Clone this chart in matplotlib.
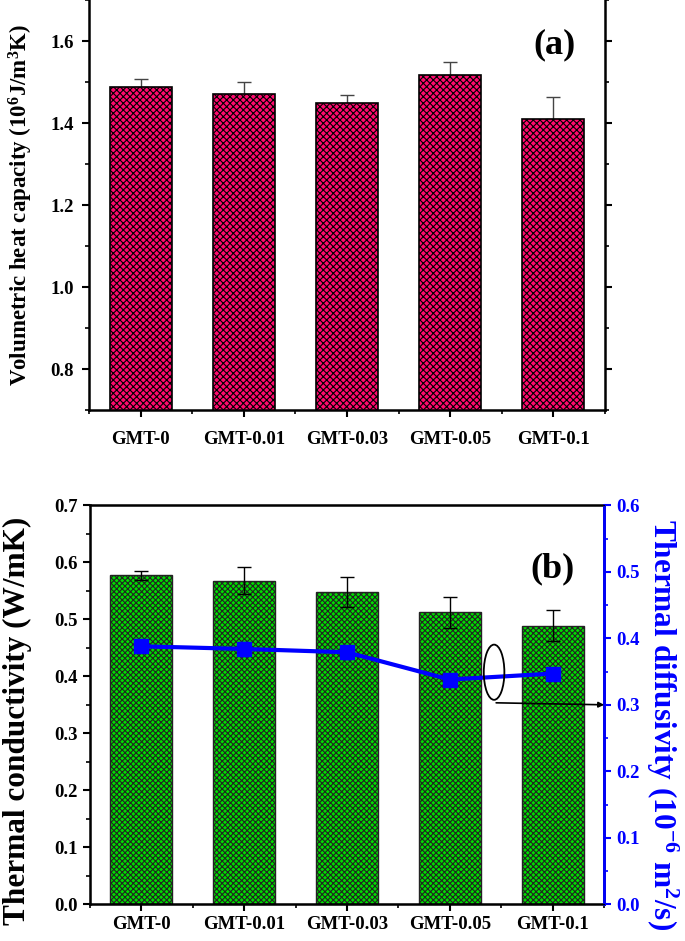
import matplotlib.pyplot as plt
from matplotlib.patches import Ellipse
from matplotlib.ticker import MultipleLocator
import numpy as np

# sample names
samples = ['GMT-0', 'GMT-0.01', 'GMT-0.03', 'GMT-0.05', 'GMT-0.1']

# (a) volumetric heat capacity, 10^6 J/m^3K (upper error only)
heat_cap = [1.489, 1.472, 1.450, 1.516, 1.409]
heat_cap_err = [0.018, 0.027, 0.019, 0.034, 0.055]

# (b) thermal conductivity, W/mK
conductivity = [0.577, 0.568, 0.548, 0.512, 0.489]
conductivity_err = [0.008, 0.024, 0.026, 0.028, 0.027]

# (b) thermal diffusivity, 10^-6 m^2/s
diffusivity = [0.388, 0.384, 0.379, 0.338, 0.347]
diffusivity_err = [0.008, 0.010, 0.010, 0.008, 0.006]


def main():
    plt.rcParams['font.family'] = ['Liberation Serif', 'DejaVu Serif']
    plt.rcParams['font.weight'] = 'bold'
    plt.rcParams['mathtext.fontset'] = 'custom'
    plt.rcParams['mathtext.rm'] = 'Liberation Serif:bold'
    plt.rcParams['mathtext.it'] = 'Liberation Serif:bold'
    plt.rcParams['mathtext.bf'] = 'Liberation Serif:bold'
    plt.rcParams['mathtext.default'] = 'rm'
    plt.rcParams['hatch.linewidth'] = 0.8

    fig = plt.figure(figsize=(6.85, 9.41), dpi=100)
    x = np.arange(len(samples))

    # ---- panel (a)
    ax1 = fig.add_axes([0.130, 0.564, 0.753, 0.436])
    ax1.errorbar(x, heat_cap, yerr=[np.zeros(len(x)), heat_cap_err], fmt='none',
                 ecolor='#444444', elinewidth=1, capsize=5, zorder=1)
    ax1.bar(x, heat_cap, width=0.6, color='#ff0a6e', edgecolor='black',
            hatch='xxxxx', linewidth=1.2, zorder=2)
    ax1.set_xlim(-0.5, 4.5)
    ax1.set_ylim(0.7, 1.7)
    ax1.set_yticks([0.8, 1.0, 1.2, 1.4, 1.6])
    ax1.yaxis.set_minor_locator(MultipleLocator(0.1))
    ax1.set_xticks(x)
    ax1.set_xticks(np.arange(-0.5, 4.6, 1), minor=True)
    ax1.set_xticklabels(samples)
    ax1.tick_params(axis='both', which='major', labelsize=13.5, width=1.5, length=5, direction='out')
    ax1.tick_params(axis='x', which='major', pad=10)
    ax1.tick_params(axis='y', which='major', pad=6)
    ax1.tick_params(axis='y', which='both', right=True)
    ax1.tick_params(axis='both', which='minor', width=1.2, length=3, direction='out')
    ax1.set_ylabel('Volumetric heat capacity (10$^6$J/m$^3$K)', fontsize=16.5, fontweight='bold')
    ax1.yaxis.set_label_coords(-0.105, 0.5)
    ax1.text(0.903, 0.89, '(a)', transform=ax1.transAxes, fontsize=26,
             fontweight='bold', ha='center', va='center')
    for s in ax1.spines.values():
        s.set_linewidth(1.8)
    ax1.spines['top'].set_visible(False)

    # ---- panel (b)
    ax2 = fig.add_axes([0.131, 0.039, 0.751, 0.424])
    ax2.bar(x, conductivity, width=0.6, color='#00dd00', edgecolor='#222222',
            hatch='xxxxxx', linewidth=1.0, zorder=2)
    ax2.errorbar(x, conductivity, yerr=conductivity_err, fmt='none',
                 ecolor='black', elinewidth=1, capsize=5, zorder=3)
    ax2.set_xlim(-0.5, 4.5)
    ax2.set_ylim(0, 0.7)
    ax2.yaxis.set_major_locator(MultipleLocator(0.1))
    ax2.yaxis.set_minor_locator(MultipleLocator(0.05))
    ax2.set_xticks(x)
    ax2.set_xticks(np.arange(-0.5, 4.6, 1), minor=True)
    ax2.set_xticklabels(samples)
    ax2.tick_params(axis='both', which='major', labelsize=13.5, width=1.5, length=5, direction='out')
    ax2.tick_params(axis='both', which='minor', width=1.2, length=3, direction='out')
    ax2.set_ylabel('Thermal conductivity (W/mK)', fontsize=22.5, fontweight='bold')
    ax2.yaxis.set_label_coords(-0.113, 0.46)
    ax2.text(0.90, 0.842, '(b)', transform=ax2.transAxes, fontsize=26,
             fontweight='bold', ha='center', va='center')
    for s in ax2.spines.values():
        s.set_linewidth(1.8)

    ax3 = ax2.twinx()
    ax3.errorbar(x, diffusivity, yerr=diffusivity_err, color='blue', marker='s',
                 markersize=10, linewidth=3, elinewidth=1, capsize=3, zorder=4)
    ax3.set_ylim(0, 0.6)
    ax3.yaxis.set_major_locator(MultipleLocator(0.1))
    ax3.yaxis.set_minor_locator(MultipleLocator(0.05))
    ax3.tick_params(axis='y', which='major', labelsize=13.5, width=1.5, length=5,
                    colors='blue', direction='out')
    ax3.tick_params(axis='y', which='minor', width=1.2, length=3, colors='blue', direction='out')
    ax3.spines['right'].set_color('blue')
    ax3.spines['right'].set_linewidth(2)
    ax3.set_ylabel('Thermal diffusivity (10$^{-6}$ m$^2$/s)', fontsize=22.5, fontweight='bold',
                   color='blue', rotation=270)
    ax3.yaxis.set_label_coords(1.147, 0.45)

    # ellipse + arrow pointing to the right axis
    ax3.add_patch(Ellipse((3.43, 0.349), 0.2, 0.083, fill=False, edgecolor='black',
                          linewidth=1.3, zorder=5))
    ax3.annotate('', xy=(4.5, 0.3), xytext=(3.45, 0.303),
                 arrowprops=dict(arrowstyle='-|>', color='black', lw=1.2,
                                 mutation_scale=8, shrinkA=0, shrinkB=0), zorder=5)

    plt.savefig('out.png', dpi=100)


if __name__ == "__main__":
    main()
